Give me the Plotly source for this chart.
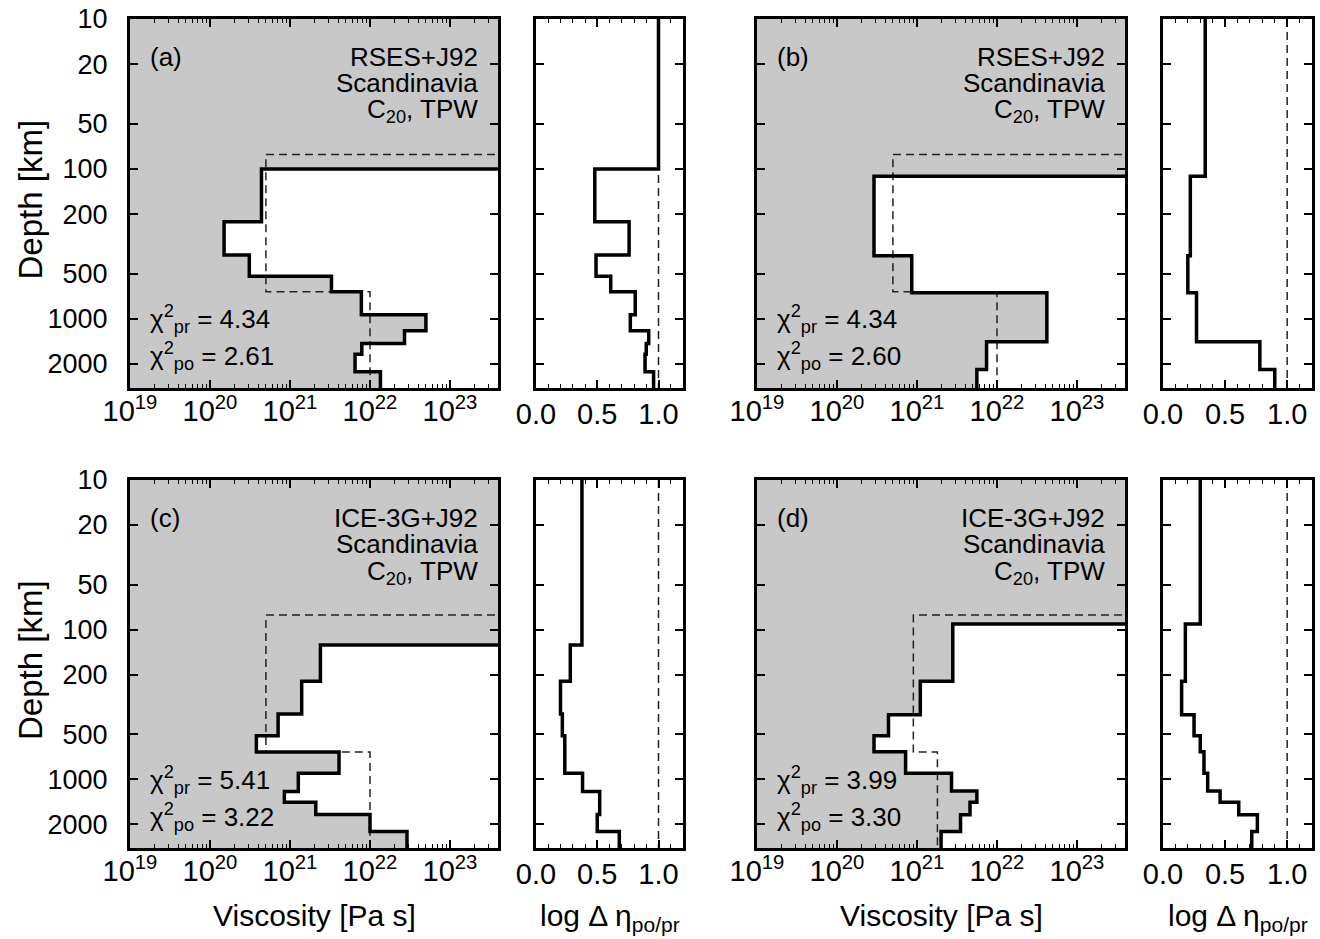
import numpy as np
import plotly.graph_objects as go

# ---------------- data ----------------
depth_ticks = [10, 20, 50, 100, 200, 500, 1000, 2000]
depth_tick_labels = ["10", "20", "50", "100", "200", "500", "1000", "2000"]
visc_ticks = [1e19, 1e20, 1e21, 1e22, 1e23]
visc_tick_labels = ["10<sup>19</sup>", "10<sup>20</sup>", "10<sup>21</sup>", "10<sup>22</sup>", "10<sup>23</sup>"]
dlog_ticks = [0.0, 0.5, 1.0]
dlog_tick_labels = ["0.0", "0.5", "1.0"]

top_depth = 10
cmb_depth = 2891

# prior model (dashed)
prior_lith = 80
prior_660 = 660
prior_dlog = 1.0

# panel (a)
a_bounds = [100, 225, 375, 520, 660, 940, 1200, 1460, 1720, 2250, 2891]
a_eta = [4.4e20, 1.5e20, 3.1e20, 3.3e21, 7.8e21, 5.0e22, 2.7e22, 7.9e21, 6.5e21, 1.35e22]
a_dlog = [1.0, 0.48, 0.76, 0.49, 0.61, 0.81, 0.77, 0.92, 0.90, 0.89, 0.96]
a_prior_um, a_prior_lm = 5e20, 1e22
a_text = ["(a)", "RSES+J92", "4.34", "2.61"]

# panel (b)
b_bounds = [112, 380, 670, 1420, 2180, 2891]
b_eta = [2.9e20, 8.6e20, 4.2e22, 7.4e21, 5.6e21]
b_dlog = [0.34, 0.22, 0.20, 0.27, 0.78, 0.90]
b_prior_um, b_prior_lm = 5e20, 1e22
b_text = ["(b)", "RSES+J92", "4.34", "2.60"]

# panel (c)
c_bounds = [127, 222, 367, 513, 658, 916, 1210, 1430, 1725, 2240, 2891]
c_eta = [2.4e21, 1.4e21, 7.1e20, 3.8e20, 4.1e21, 1.27e21, 8.5e20, 2.1e21, 1.0e22, 2.9e22]
c_dlog = [0.375, 0.28, 0.20, 0.215, 0.235, 0.235, 0.38, 0.52, 0.52, 0.50, 0.68]
c_prior_um, c_prior_lm = 5e20, 1e22
c_text = ["(c)", "ICE-3G+J92", "5.41", "3.22"]

# panel (d)
d_bounds = [92, 222, 371, 513, 656, 916, 1200, 1430, 1735, 2240, 2891]
d_eta = [2.8e21, 1.1e21, 4.4e20, 2.9e20, 7.2e20, 2.7e21, 5.6e21, 4.6e21, 3.5e21, 2.0e21]
d_dlog = [0.30, 0.18, 0.15, 0.25, 0.30, 0.33, 0.36, 0.46, 0.61, 0.76, 0.715]
d_prior_um, d_prior_lm = 9e20, 1.8e21
d_text = ["(d)", "ICE-3G+J92", "3.99", "3.30"]

region_name = "Scandinavia"
data_name = "C<sub>20</sub>, TPW"

# ---------------- layout geometry (pixels) ----------------
W, H = 1320, 939
cols = {"main_l": (130, 498), "small_l": (536, 683), "main_r": (757, 1125), "small_r": (1163, 1312)}
rows = {"top": (19, 388), "bot": (480, 848)}
FONT = "Liberation Sans, Arial, Helvetica, sans-serif"
GRAY = "rgb(200,200,200)"
XL, XR = 1e17, 1e26  # beyond axis range, clipped

def px(x):
    return x / W

def py(y):
    return 1 - y / H

panels = [
    dict(bounds=a_bounds, eta=a_eta, dlog=a_dlog, um=a_prior_um, lm=a_prior_lm, text=a_text, col=("main_l", "small_l"), row="top", ylab=True, xtitle=False),
    dict(bounds=b_bounds, eta=b_eta, dlog=b_dlog, um=b_prior_um, lm=b_prior_lm, text=b_text, col=("main_r", "small_r"), row="top", ylab=False, xtitle=False),
    dict(bounds=c_bounds, eta=c_eta, dlog=c_dlog, um=c_prior_um, lm=c_prior_lm, text=c_text, col=("main_l", "small_l"), row="bot", ylab=True, xtitle=True),
    dict(bounds=d_bounds, eta=d_eta, dlog=d_dlog, um=d_prior_um, lm=d_prior_lm, text=d_text, col=("main_r", "small_r"), row="bot", ylab=False, xtitle=True),
]

visc_minor = [m * 10.0 ** e for e in range(18, 24) for m in range(2, 10)]

fig = go.Figure()
layout = dict(width=W, height=H, margin=dict(l=0, r=0, t=0, b=0, autoexpand=False), showlegend=False,
              paper_bgcolor="white", plot_bgcolor="white", font=dict(family=FONT, color="black"))
annotations = []

def step_xy(bounds, vals):
    xs, ys = [], []
    for i, v in enumerate(vals):
        xs += [v, v]
        ys += [bounds[i], bounds[i + 1]]
    return xs, ys

for i, p in enumerate(panels):
    im, ism = 2 * i + 1, 2 * i + 2
    xm, ym = f"x{im}", f"y{im}"
    xs_, ys_ = f"x{ism}", f"y{ism}"
    r0, r1 = rows[p["row"]]
    cm0, cm1 = cols[p["col"][0]]
    cs0, cs1 = cols[p["col"][1]]

    # main step profile
    sx, sy = step_xy(p["bounds"], p["eta"])
    line_x = [XR] + sx
    line_y = [p["bounds"][0]] + sy
    fill_x = [XR, XR] + sx + [XL, XL, XR]
    fill_y = [top_depth, p["bounds"][0]] + sy + [cmb_depth, top_depth, top_depth]
    fig.add_trace(go.Scatter(x=fill_x, y=fill_y, xaxis=xm, yaxis=ym, mode="lines",
                             line=dict(width=0, color=GRAY), fill="toself", fillcolor=GRAY, hoverinfo="skip"))
    pr_x = [XR, p["um"], p["um"], p["lm"], p["lm"]]
    pr_y = [prior_lith, prior_lith, prior_660, prior_660, cmb_depth]
    fig.add_trace(go.Scatter(x=pr_x, y=pr_y, xaxis=xm, yaxis=ym, mode="lines",
                             line=dict(width=1.5, color="#222", dash="8px,5px")))
    fig.add_trace(go.Scatter(x=line_x, y=line_y, xaxis=xm, yaxis=ym, mode="lines",
                             line=dict(width=3.5, color="black")))

    # small panel
    dx, dy = step_xy([top_depth] + p["bounds"], p["dlog"])
    fig.add_trace(go.Scatter(x=[prior_dlog, prior_dlog], y=[top_depth, cmb_depth], xaxis=xs_, yaxis=ys_,
                             mode="lines", line=dict(width=1.5, color="#222", dash="8px,5px")))
    fig.add_trace(go.Scatter(x=dx, y=dy, xaxis=xs_, yaxis=ys_, mode="lines",
                             line=dict(width=3.5, color="black")))

    ydom = [py(r1), py(r0)]
    common = dict(showline=True, linewidth=3, linecolor="black", mirror="ticks", ticks="inside",
                  tickwidth=1.5, tickcolor="black", showgrid=False, zeroline=False, automargin=False)
    xfont = dict(family=FONT, size=29, color="black")
    yfont = dict(family=FONT, size=27, color="black")
    yax = dict(common, type="log", range=[np.log10(cmb_depth), 1], tickmode="array",
               tickvals=depth_ticks, ticktext=depth_tick_labels, ticklen=8, tickfont=yfont)
    layout[f"xaxis{im}"] = dict(common, type="log", range=[19, 23.6], domain=[px(cm0), px(cm1)],
                                anchor=ym, tickmode="array", tickvals=visc_ticks, ticktext=visc_tick_labels,
                                ticklen=8, tickfont=xfont, ticklabelstandoff=-5,
                                minor=dict(tickmode="array", tickvals=visc_minor, ticks="inside",
                                           ticklen=4, tickwidth=1.2, tickcolor="black", showgrid=False))
    layout[f"yaxis{im}"] = dict(yax, domain=ydom, anchor=xm, showticklabels=p["ylab"], ticklabelstandoff=14)
    layout[f"xaxis{ism}"] = dict(common, range=[0, 1.2], domain=[px(cs0), px(cs1)], anchor=ys_,
                                 tickmode="array", tickvals=dlog_ticks, ticktext=dlog_tick_labels, ticklen=8,
                                 tickfont=xfont, ticklabelstandoff=-2,
                                 minor=dict(dtick=0.1, tick0=0, ticks="inside", ticklen=4, tickwidth=1.2,
                                            tickcolor="black", showgrid=False))
    layout[f"yaxis{ism}"] = dict(yax, domain=ydom, anchor=xs_, showticklabels=False)

    # annotations
    af = dict(family=FONT, size=26, color="black")
    lab, model, chipr, chipo = p["text"]
    annotations += [
        dict(x=px(cm0 + 18), y=py(r0 + 38), text=lab, xanchor="left", yanchor="middle"),
        dict(x=px(cm1 - 18), y=py(r0 + 38), text=model, xanchor="right", yanchor="middle"),
        dict(x=px(cm1 - 18), y=py(r0 + 64), text=region_name, xanchor="right", yanchor="middle"),
        dict(x=px(cm1 - 18), y=py(r0 + 92), text=data_name, xanchor="right", yanchor="middle"),
        dict(x=px(cm0 + 18), y=py(r0 + 300), text=f"χ<sup>2</sup><sub>pr</sub> = {chipr}", xanchor="left", yanchor="middle"),
        dict(x=px(cm0 + 18), y=py(r0 + 337), text=f"χ<sup>2</sup><sub>po</sub> = {chipo}", xanchor="left", yanchor="middle"),
    ]
    for a in annotations[-6:]:
        a.update(xref="paper", yref="paper", showarrow=False, font=af)
    tf = dict(family=FONT, size=30, color="black")
    if p["ylab"]:
        annotations.append(dict(x=px(30), y=py((r0 + r1) / 2 - 4), text="Depth [km]", textangle=-90,
                                xref="paper", yref="paper", xanchor="center", yanchor="middle",
                                showarrow=False, font=dict(family=FONT, size=33, color="black")))
    if p["xtitle"]:
        annotations.append(dict(x=px((cm0 + cm1) / 2), y=py(915), text="Viscosity [Pa s]",
                                xref="paper", yref="paper", xanchor="center", yanchor="middle",
                                showarrow=False, font=tf))
        annotations.append(dict(x=px((cs0 + cs1) / 2), y=py(917), text="log Δ η<sub>po/pr</sub>",
                                xref="paper", yref="paper", xanchor="center", yanchor="middle",
                                showarrow=False, font=tf))

layout["annotations"] = annotations
fig.update_layout(**layout)
fig.write_html("out.html")
